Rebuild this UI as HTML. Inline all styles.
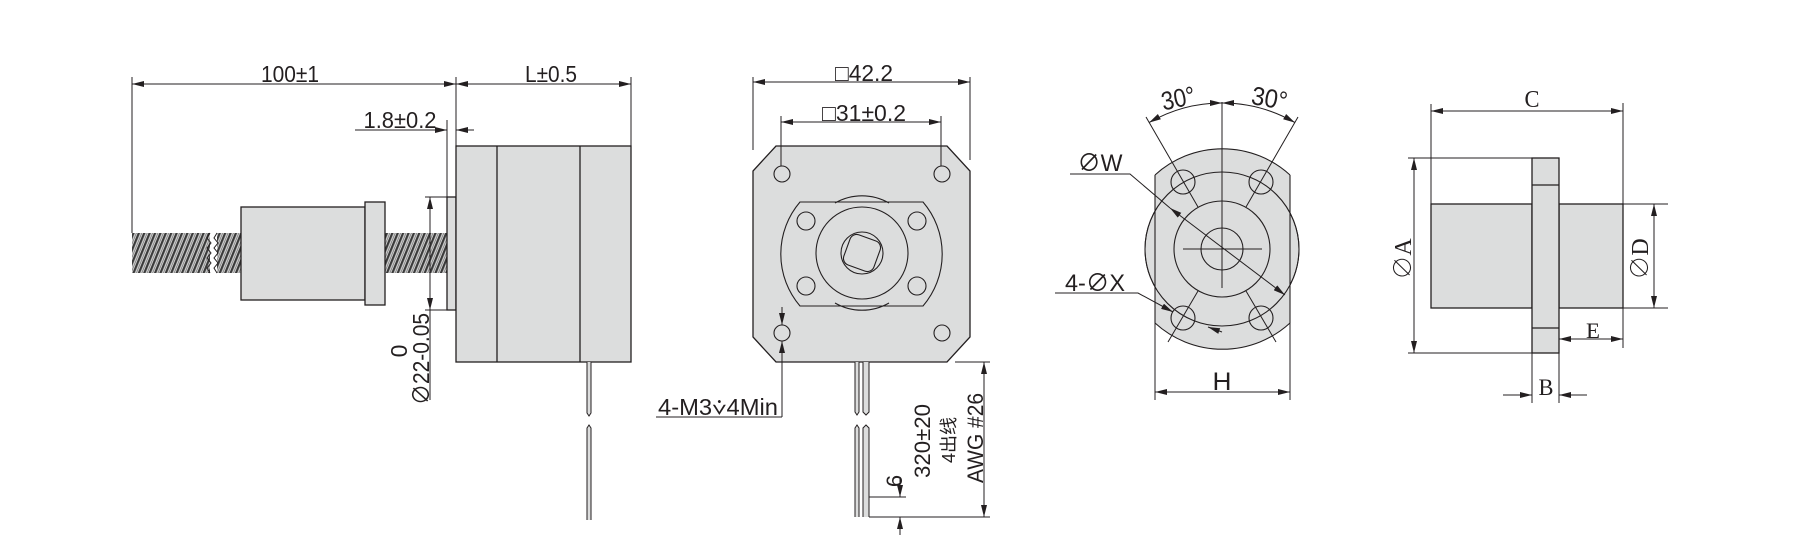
<!DOCTYPE html>
<html><head><meta charset="utf-8"><style>
html,body{margin:0;padding:0;background:#fff;}
svg{display:block;}
text{font-family:"Liberation Sans","Noto Sans CJK SC",sans-serif;fill:#231f20;}
.s{font-family:"Liberation Serif","Noto Serif CJK SC",serif;}
</style></head><body>
<svg width="1800" height="559" viewBox="0 0 1800 559" xmlns="http://www.w3.org/2000/svg">
<defs>
<marker id="a" viewBox="0 0 12 6" refX="12" refY="3" markerWidth="12" markerHeight="6" markerUnits="userSpaceOnUse" orient="auto-start-reverse"><path d="M0,0 L12,3 L0,6 z" fill="#231f20"/></marker>
<pattern id="th" patternUnits="userSpaceOnUse" width="5" height="40" patternTransform="rotate(22)">
<rect width="5" height="40" fill="#d8d8d8"/><rect x="0" width="2.2" height="40" fill="#3a3a3a"/><rect x="3.4" width="0.7" height="40" fill="#6a6a6a"/></pattern>
<clipPath id="flat"><rect x="1155" y="0" width="135" height="559"/></clipPath>
</defs>
<g stroke="#231f20" stroke-width="1.3" fill="none">
<rect x="132" y="233" width="78" height="40" fill="url(#th)" stroke="none"/>
<rect x="217" y="233" width="24" height="40" fill="url(#th)" stroke="none"/>
<rect x="385" y="233" width="62" height="40" fill="url(#th)" stroke="none"/>
<path d="M210,233 l-3,5 l4,5 l-4,5 l4,5 l-4,5 l4,5 l-4,5 l3,5" stroke-width="1"/>
<path d="M217,233 l-3,5 l4,5 l-4,5 l4,5 l-4,5 l4,5 l-4,5 l3,5" stroke-width="1"/>
<rect x="241" y="207" width="124" height="93" fill="#dcdddd"/>
<rect x="365" y="202" width="20" height="103" fill="#dcdddd"/>
<rect x="447" y="197" width="9" height="113" fill="#dcdddd"/>
<rect x="456" y="146" width="175" height="216" fill="#dcdddd"/>
<line x1="497" y1="146" x2="497" y2="362"/><line x1="580" y1="146" x2="580" y2="362"/>
<path d="M587,362 V413 l2,3 l2,-3 V362" fill="#dcdddd" stroke-width="1"/>
<path d="M587,520 V428 l2,-3 l2,3 V520" fill="#dcdddd" stroke-width="1"/>
<g stroke-width="1">
<line x1="132" y1="77" x2="132" y2="233"/>
<line x1="456" y1="77" x2="456" y2="146"/>
<line x1="631" y1="77" x2="631" y2="146"/>
<line x1="132" y1="84" x2="456" y2="84" marker-start="url(#a)" marker-end="url(#a)"/>
<line x1="456" y1="84" x2="631" y2="84" marker-start="url(#a)" marker-end="url(#a)"/>
<line x1="447" y1="120" x2="447" y2="197"/>
<line x1="355" y1="130" x2="447" y2="130" marker-end="url(#a)"/>
<line x1="474" y1="130" x2="456" y2="130" marker-end="url(#a)"/>
<line x1="425" y1="197" x2="447" y2="197"/><line x1="425" y1="310" x2="447" y2="310"/>
<line x1="430" y1="197" x2="430" y2="310" marker-start="url(#a)" marker-end="url(#a)"/>
<line x1="430" y1="310" x2="430" y2="400"/>
</g>
<path d="M776,146 H947 L970,171 V337 L947,362 H776 L753,337 V171 Z" fill="#dcdddd"/>
<g stroke-width="1.1">
<circle cx="782" cy="174" r="8"/><circle cx="942" cy="174" r="8"/>
<circle cx="782" cy="333" r="8"/><circle cx="942" cy="333" r="8"/>
<path d="M835,203 A54,54 0 0 1 889,203"/>
<path d="M835,303 A54,54 0 0 0 889,303"/>
<path d="M800,202 H923 A80,80 0 0 1 923,306 H800 A80,80 0 0 1 800,202 Z"/>
<circle cx="862" cy="253" r="46"/>
<circle cx="862" cy="253" r="21"/>
<rect x="846" y="237" width="32" height="32" rx="7" transform="rotate(20 862 253)"/>
<circle cx="806" cy="221" r="9"/><circle cx="917" cy="221" r="9"/>
<circle cx="806" cy="286" r="9"/><circle cx="917" cy="286" r="9"/>
</g>
<path d="M855,362 V412 l2,3 l2,-3 V362 M863,362 V412 l3,3 l3,-3 V362" fill="#dcdddd" stroke-width="1"/>
<path d="M855,517 V428 l2,-3 l2,3 V517 M863,517 V428 l3,-3 l3,3 V517" fill="#dcdddd" stroke-width="1"/>
<g stroke-width="1">
<line x1="753" y1="77" x2="753" y2="150"/><line x1="970" y1="77" x2="970" y2="160"/>
<line x1="753" y1="82" x2="970" y2="82" marker-start="url(#a)" marker-end="url(#a)"/>
<line x1="781" y1="116" x2="781" y2="166"/><line x1="941" y1="116" x2="941" y2="166"/>
<line x1="781" y1="122" x2="941" y2="122" marker-start="url(#a)" marker-end="url(#a)"/>
<line x1="782" y1="307" x2="782" y2="325" marker-end="url(#a)"/>
<line x1="782" y1="417" x2="782" y2="341" marker-end="url(#a)"/>
<line x1="656" y1="417" x2="782" y2="417"/>
<line x1="955" y1="362" x2="990" y2="362"/><line x1="869" y1="517" x2="990" y2="517"/>
<line x1="984" y1="362" x2="984" y2="517" marker-start="url(#a)" marker-end="url(#a)"/>
<line x1="869" y1="497" x2="906" y2="497"/>
<line x1="900" y1="478" x2="900" y2="497" marker-end="url(#a)"/>
<line x1="900" y1="535" x2="900" y2="517" marker-end="url(#a)"/>
</g>
<circle cx="1222" cy="249" r="77" fill="#dcdddd" stroke-width="1"/>
<circle cx="1222" cy="249" r="100" fill="#dcdddd" clip-path="url(#flat)" stroke="none"/>
<path d="M1155,175 A100,100 0 0 1 1290,175 M1155,323 A100,100 0 0 0 1290,323" stroke-width="1.1"/>
<line x1="1155" y1="175" x2="1155" y2="323" stroke-width="1.1"/><line x1="1290" y1="175" x2="1290" y2="323" stroke-width="1.1"/>
<g stroke-width="1.1">
<circle cx="1222" cy="249" r="77"/>
<circle cx="1222" cy="249" r="48"/>
<circle cx="1222" cy="249" r="21"/>
<circle cx="1183" cy="182" r="12"/><circle cx="1261" cy="182" r="12"/>
<circle cx="1183" cy="318" r="12"/><circle cx="1261" cy="318" r="12"/>
</g>
<g stroke-width="1">
<line x1="1183" y1="249" x2="1262" y2="249"/>
<line x1="1222" y1="102" x2="1222" y2="288"/>
<line x1="1198" y1="207" x2="1146" y2="117"/><line x1="1246" y1="207" x2="1298" y2="117"/>
<line x1="1198" y1="291" x2="1168" y2="342"/><line x1="1246" y1="291" x2="1276" y2="342"/>
<path d="M1149,122.6 A146,146 0 0 1 1222,103" marker-start="url(#a)" marker-end="url(#a)"/>
<path d="M1222,103 A146,146 0 0 1 1295,122.6" marker-start="url(#a)" marker-end="url(#a)"/>
<polyline points="1070,174 1130,174 1170,208"/>
<line x1="1170" y1="208" x2="1285" y2="295" marker-start="url(#a)" marker-end="url(#a)"/>
<polyline points="1055,293 1138,293 1173,312" marker-end="url(#a)"/>
<line x1="1222" y1="332" x2="1208" y2="327" marker-end="url(#a)"/>
<line x1="1155" y1="323" x2="1155" y2="400"/><line x1="1290" y1="323" x2="1290" y2="400"/>
<line x1="1155" y1="392" x2="1290" y2="392" marker-start="url(#a)" marker-end="url(#a)"/>
</g>
<rect x="1431" y="204" width="101" height="104" fill="#dcdddd"/>
<rect x="1559" y="204" width="64" height="104" fill="#dcdddd"/>
<rect x="1532" y="158" width="27" height="195" fill="#dcdddd"/>
<line x1="1532" y1="185" x2="1559" y2="185"/><line x1="1532" y1="328" x2="1559" y2="328"/>
<g stroke-width="1">
<line x1="1431" y1="104" x2="1431" y2="204"/><line x1="1623" y1="103" x2="1623" y2="348"/>
<line x1="1431" y1="111" x2="1623" y2="111" marker-start="url(#a)" marker-end="url(#a)"/>
<line x1="1408" y1="158" x2="1532" y2="158"/><line x1="1408" y1="353" x2="1532" y2="353"/>
<line x1="1414" y1="158" x2="1414" y2="353" marker-start="url(#a)" marker-end="url(#a)"/>
<line x1="1623" y1="204" x2="1668" y2="204"/><line x1="1623" y1="308" x2="1668" y2="308"/>
<line x1="1654" y1="204" x2="1654" y2="308" marker-start="url(#a)" marker-end="url(#a)"/>
<line x1="1559" y1="339" x2="1623" y2="339" marker-start="url(#a)" marker-end="url(#a)"/>
<line x1="1532" y1="353" x2="1532" y2="403"/><line x1="1559" y1="353" x2="1559" y2="403"/>
<line x1="1503" y1="395" x2="1532" y2="395" marker-end="url(#a)"/>
<line x1="1587" y1="395" x2="1559" y2="395" marker-end="url(#a)"/>
</g>
</g>
<g font-size="23">
<text x="290" y="82" text-anchor="middle" textLength="58" lengthAdjust="spacingAndGlyphs">100±1</text>
<text x="551" y="82" text-anchor="middle" textLength="52" lengthAdjust="spacingAndGlyphs">L±0.5</text>
<text x="400" y="128" text-anchor="middle" textLength="73" lengthAdjust="spacingAndGlyphs">1.8±0.2</text>
<text transform="translate(429,359) rotate(-90)" text-anchor="middle" textLength="92" lengthAdjust="spacingAndGlyphs">∅22-0.05</text>
<text transform="translate(407,351) rotate(-90)" text-anchor="middle">0</text>
<text x="864" y="81" text-anchor="middle" textLength="58" lengthAdjust="spacingAndGlyphs">□42.2</text>
<text x="864" y="121" text-anchor="middle" textLength="84" lengthAdjust="spacingAndGlyphs">□31±0.2</text>
<text x="718" y="415" text-anchor="middle" textLength="120" lengthAdjust="spacingAndGlyphs">4-M3⩒4Min</text>
<text transform="translate(930,441) rotate(-90)" text-anchor="middle" font-size="22" textLength="74" lengthAdjust="spacingAndGlyphs">320±20</text>
<text transform="translate(955,440) rotate(-90)" text-anchor="middle" font-size="18">4出线</text>
<text transform="translate(983,438) rotate(-90)" text-anchor="middle" font-size="22" textLength="90" lengthAdjust="spacingAndGlyphs">AWG #26</text>
<text transform="translate(902,481) rotate(-90)" text-anchor="middle" font-size="22">6</text>
<text transform="translate(1180,107) rotate(-12)" text-anchor="middle" font-size="26" textLength="34" lengthAdjust="spacingAndGlyphs">30°</text>
<text transform="translate(1268,107) rotate(10)" text-anchor="middle" font-size="26" textLength="36" lengthAdjust="spacingAndGlyphs">30°</text>
<text x="1100" y="171" text-anchor="middle" font-size="24" textLength="45" lengthAdjust="spacingAndGlyphs">∅W</text>
<text x="1095" y="291" text-anchor="middle" font-size="24" textLength="60" lengthAdjust="spacingAndGlyphs">4-∅X</text>
<text x="1222" y="390" text-anchor="middle" font-size="25" textLength="19" lengthAdjust="spacingAndGlyphs">H</text>
<text class="s" x="1532" y="107" text-anchor="middle" font-size="24" textLength="15" lengthAdjust="spacingAndGlyphs">C</text>
<text class="s" x="1593" y="338" text-anchor="middle" font-size="22" textLength="14" lengthAdjust="spacingAndGlyphs">E</text>
<text class="s" x="1546" y="395" text-anchor="middle" font-size="23" textLength="15" lengthAdjust="spacingAndGlyphs">B</text>
<text class="s" transform="translate(1411,259) rotate(-90)" text-anchor="middle" font-size="24">∅A</text>
<text class="s" transform="translate(1648,259) rotate(-90)" text-anchor="middle" font-size="24">∅D</text>
</g>
</svg>
</body></html>
